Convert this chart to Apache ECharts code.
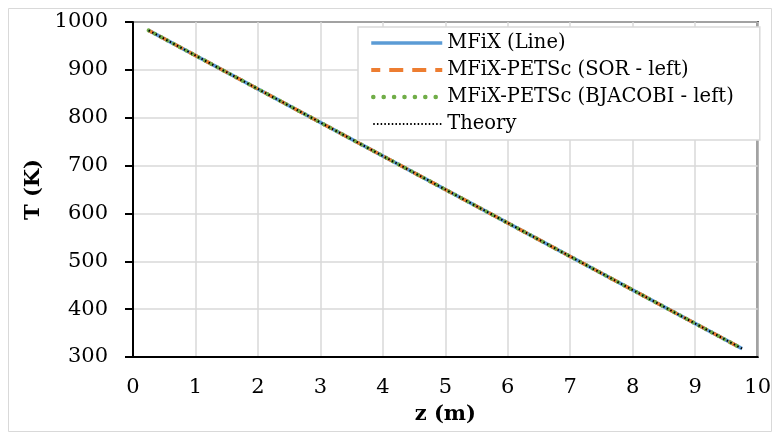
<!DOCTYPE html>
<html><head><meta charset="utf-8">
<script src="https://cdn.jsdelivr.net/npm/echarts@6/dist/echarts.min.js"></script>
<style>html,body{margin:0;padding:0;background:#fff}#c{width:774px;height:433px}</style>
</head><body><div id="c"></div>
<script>
const zValues = [0.25,0.75,1.25,1.75,2.25,2.75,3.25,3.75,4.25,4.75,5.25,5.75,6.25,6.75,7.25,7.75,8.25,8.75,9.25,9.75];
const mfixLine = [982.5,947.5,912.5,877.5,842.5,807.5,772.5,737.5,702.5,667.5,632.5,597.5,562.5,527.5,492.5,457.5,422.5,387.5,352.5,317.5];
const petscSor = [982.5,947.5,912.5,877.5,842.5,807.5,772.5,737.5,702.5,667.5,632.5,597.5,562.5,527.5,492.5,457.5,422.5,387.5,352.5,317.5];
const petscBjacobi = [982.5,947.5,912.5,877.5,842.5,807.5,772.5,737.5,702.5,667.5,632.5,597.5,562.5,527.5,492.5,457.5,422.5,387.5,352.5,317.5];
const theory = [982.5,947.5,912.5,877.5,842.5,807.5,772.5,737.5,702.5,667.5,632.5,597.5,562.5,527.5,492.5,457.5,422.5,387.5,352.5,317.5];
const seriesNames = ['MFiX (Line)','MFiX-PETSc (SOR - left)','MFiX-PETSc (BJACOBI - left)','Theory'];
const xTicks = [0,1,2,3,4,5,6,7,8,9,10];
const yTicks = [300,400,500,600,700,800,900,1000];

const FONT = 'DejaVu Serif';
const pair = arr => zValues.map((z,i)=>[z,arr[i]]);
const styles = [
  {color:'#5B9BD5',width:3.5,type:'solid'},
  {color:'#ED7D31',width:3.5,type:[10,7],dashOffset:5},
  {color:'#70AD47',width:4,type:[0.1,7],cap:'round'},
  {color:'#000000',width:2,type:[1.5,2.5]}
];
const legendStyles = [
  {color:'#5B9BD5',width:3.5,type:'solid'},
  {color:'#ED7D31',width:4,type:[14,9],cap:'butt'},
  {color:'#70AD47',width:4.5,type:[0.1,10.3],cap:'round',dashOffset:-2},
  {color:'#000000',width:1.8,type:[1.5,2.2]}
];
const chart = echarts.init(document.getElementById('c'), null, {renderer:'canvas'});
chart.setOption({
  animation:false,
  backgroundColor:'#fff',
  textStyle:{fontFamily:FONT,color:'#000'},
  graphic:[{type:'rect',shape:{x:8.5,y:8.5,width:763,height:423},style:{fill:'none',stroke:'#d9d9d9',lineWidth:1}}],
  grid:{left:133,right:14,top:22,bottom:76,show:true,borderColor:'#000',borderWidth:2,backgroundColor:'transparent'},
  xAxis:{type:'value',min:xTicks[0],max:xTicks[xTicks.length-1],interval:1,
    name:'z (m)',nameLocation:'middle',nameGap:47,
    nameTextStyle:{fontFamily:FONT,fontSize:21,fontWeight:'bold',color:'#000'},
    axisLine:{show:true,lineStyle:{color:'#000',width:2}},axisTick:{show:false},
    axisLabel:{fontFamily:FONT,fontSize:21,color:'#000',margin:20},
    splitLine:{show:true,lineStyle:{color:'#d9d9d9',width:1.5}}},
  yAxis:{type:'value',min:yTicks[0],max:yTicks[yTicks.length-1],interval:100,
    name:'T (K)',nameLocation:'middle',nameGap:83,nameRotate:90,
    nameTextStyle:{fontFamily:FONT,fontSize:21,fontWeight:'bold',color:'#000'},
    axisLine:{show:true,lineStyle:{color:'#000',width:2}},
    axisTick:{show:true,length:8,lineStyle:{color:'#000',width:2}},
    axisLabel:{fontFamily:FONT,fontSize:21,color:'#000',margin:25,formatter:v=>String(v)},
    splitLine:{show:true,lineStyle:{color:'#d9d9d9',width:1.5}}},
  legend:{orient:'vertical',left:358,top:27,backgroundColor:'#fff',borderColor:'#d9d9d9',borderWidth:1.5,
    padding:[6,26,6,11],itemWidth:71,itemHeight:14,itemGap:7,
    textStyle:{fontFamily:FONT,fontSize:19.5,color:'#000'},
    data:seriesNames.map((n,i)=>({name:n,itemStyle:{opacity:0},lineStyle:Object.assign({},legendStyles[i])}))},
  series:[mfixLine,petscSor,petscBjacobi,theory].map((arr,i)=>({
    name:seriesNames[i],type:'line',data:pair(arr),symbol:'none',
    lineStyle:Object.assign({},styles[i]),itemStyle:{color:styles[i].color}}))
});
</script></body></html>
